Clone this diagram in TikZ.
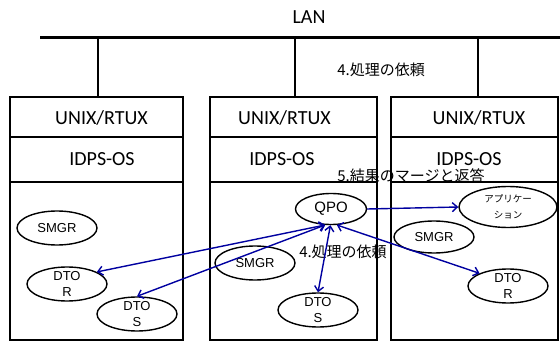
\documentclass[tikz,border=0pt]{standalone}
\usepackage{fontspec}
\setmainfont{Carlito}
\newfontfamily\arialfont{Liberation Sans}
\newfontfamily\jpfont{Noto Sans CJK JP}
\usetikzlibrary{shapes.geometric,arrows.meta}

\definecolor{linkblue}{RGB}{0,0,160}

\begin{document}
\begin{tikzpicture}[x=1pt,y=-1pt,
	row/.style={draw, line width=2pt, inner sep=0pt},
	oslabel/.style={font=\fontsize{20}{24}\selectfont},
	jplabel/.style={font=\jpfont\fontsize{15}{18}\selectfont},
	proc/.style={ellipse, draw, line width=1.4pt, inner sep=0pt, minimum width=80pt, minimum height=34pt, font=\arialfont\fontsize{13}{16}\selectfont},
	proctext/.style={align=center, inner sep=0pt, font=\arialfont\fontsize{13}{16}\selectfont},
	link/.style={draw=linkblue, line width=1.4pt, {Straight Barb[length=5pt,width=9pt]}-{Straight Barb[length=5pt,width=9pt]}}
]
	\useasboundingbox (0,0) rectangle (560,342);

	% LAN backbone
	\node (lan) [oslabel] at (309,17) {LAN};
	\coordinate (lanw) at (40,38);
	\coordinate (lane) at (560,38);
	\draw[line width=3pt] (lanw) -- (lane);

	% three hosts: UNIX/RTUX, IDPS-OS, body
	\node (unix1) [row, minimum width=173pt, minimum height=40pt] at (96.5,117) {};
	\node (idps1) [row, minimum width=173pt, minimum height=45pt] at (96.5,159.5) {};
	\node (body1) [row, minimum width=173pt, minimum height=158pt] at (96.5,261) {};
	\node (unix2) [row, minimum width=167pt, minimum height=40pt] at (293.5,117) {};
	\node (idps2) [row, minimum width=167pt, minimum height=45pt] at (293.5,159.5) {};
	\node (body2) [row, minimum width=167pt, minimum height=158pt] at (293.5,261) {};
	\node (unix3) [row, minimum width=167pt, minimum height=40pt] at (474.5,117) {};
	\node (idps3) [row, minimum width=167pt, minimum height=45pt] at (474.5,159.5) {};
	\node (body3) [row, minimum width=167pt, minimum height=158pt] at (474.5,261) {};

	\node (unix1t) [oslabel] at (101.5,118) {UNIX/RTUX};
	\node (idps1t) [oslabel] at (102,159) {IDPS-OS};
	\node (unix2t) [oslabel] at (284.5,118) {UNIX/RTUX};
	\node (idps2t) [oslabel] at (282,159) {IDPS-OS};
	\node (unix3t) [oslabel] at (479,118) {UNIX/RTUX};
	\node (idps3t) [oslabel] at (469,159) {IDPS-OS};

	% drops from the LAN
	\coordinate (tap1) at (98,38);
	\coordinate (tap2) at (295,38);
	\coordinate (tap3) at (478,38);
	\draw[line width=2pt] (tap1) -- (tap1 |- unix1.north);
	\draw[line width=2pt] (tap2) -- (tap2 |- unix2.north);
	\draw[line width=2pt] (tap3) -- (tap3 |- unix3.north);

	% processes
	\node (smgr1) [proc] at (57,228) {SMGR};
	\node (dtor1) [proc, label={[proctext]center:DTO\\R}] at (67,284) {};
	\node (dtos1) [proc, label={[proctext]center:DTO\\S}] at (137,314) {};
	\node (qpo) [proc, minimum width=71pt, minimum height=31pt, font=\arialfont\fontsize{15}{18}\selectfont] at (331,209) {QPO};
	\node (smgr2) [proc] at (255,263) {SMGR};
	\node (dtos2) [proc, label={[proctext]center:DTO\\S}] at (318,310) {};
	\node (app) [proc, minimum width=98pt, minimum height=41pt, label={[proctext, font=\jpfont\fontsize{9.5}{16}\selectfont]center:アプリケー\\ション}] at (508,207) {};
	\node (smgr3) [proc, minimum height=32pt] at (434,237) {SMGR};
	\node (dtor3) [proc, label={[proctext]center:DTO\\R}] at (508,286) {};

	% requests and results
	\node (req1) [jplabel] at (381,70) {4.処理の依頼};
	\node (req2) [jplabel] at (343,252) {4.処理の依頼};
	\node (merge) [jplabel] at (411,176) {5.結果のマージと返答};

	\draw[link, -{Straight Barb[length=5pt,width=9pt]}] (qpo.east) -- (app.west);
	\draw[link] (qpo.250) -- (dtor1.22);
	\draw[link] (qpo.250) -- (dtos1.north);
	\draw[link] (qpo.268) -- (dtos2.north);
	\draw[link] (qpo.290) -- (dtor3.156);
\end{tikzpicture}
\end{document}
